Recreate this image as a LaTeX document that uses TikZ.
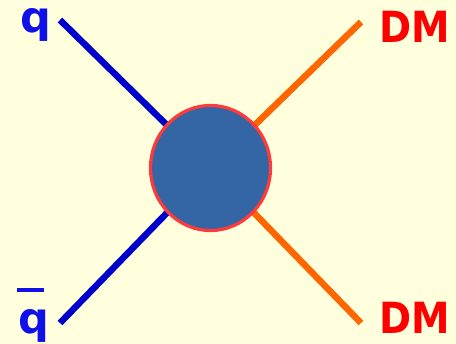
\documentclass[tikz,border=0pt]{standalone}
\usepackage{fontspec}
\setmainfont{DejaVu Sans}
\usetikzlibrary{shapes.geometric}
\definecolor{bgyellow}{RGB}{255,255,221}
\definecolor{qtext}{RGB}{16,16,235}
\definecolor{qline}{RGB}{0,0,204}
\definecolor{dmline}{RGB}{255,102,0}
\definecolor{dmtext}{RGB}{255,0,0}
\definecolor{blobfill}{RGB}{52,101,164}
\definecolor{blobedge}{RGB}{255,58,58}
\tikzset{
  lbl/.style={anchor=base, inner sep=0pt, font=\fontsize{43}{48}\selectfont\bfseries},
  qlbl/.style={lbl, text=qtext},
  dmlbl/.style={lbl, text=dmtext},
  qleg/.style={draw=qline, line width=6.5pt},
  dmleg/.style={draw=dmline, line width=6.5pt},
  blob/.style={ellipse, draw=blobedge, fill=blobfill, line width=3.2pt,
    minimum width=120pt, minimum height=125pt, inner sep=0pt}
}
\begin{document}
\begin{tikzpicture}[x=1pt,y=-1pt]
\fill[bgyellow] (0,0) rectangle (456,344);
\useasboundingbox (0,0) rectangle (456,344);
\coordinate (qend) at (60,20);
\coordinate (qbend) at (60,323);
\coordinate (dmend1) at (361,22);
\coordinate (dmend2) at (361,323);
\coordinate (c) at (210.5,168);
\draw[qleg] (qend) -- (c);
\draw[qleg] (qbend) -- (c);
\draw[dmleg] (dmend1) -- (c);
\draw[dmleg] (dmend2) -- (c);
\node[blob] (blob) at (c) {};
\node[qlbl] (q) at (35.5,33) {q};
\node[qlbl] (qb) at (34,334) {\rlap{\hspace{-1.5pt}\raisebox{42pt}{\rule{27pt}{4pt}}}q};
\node[dmlbl] (dm1) at (415,43) {\scalebox{0.9}[1]{DM}};
\node[dmlbl] (dm2) at (415,334) {\scalebox{0.9}[1]{DM}};
\end{tikzpicture}
\end{document}
